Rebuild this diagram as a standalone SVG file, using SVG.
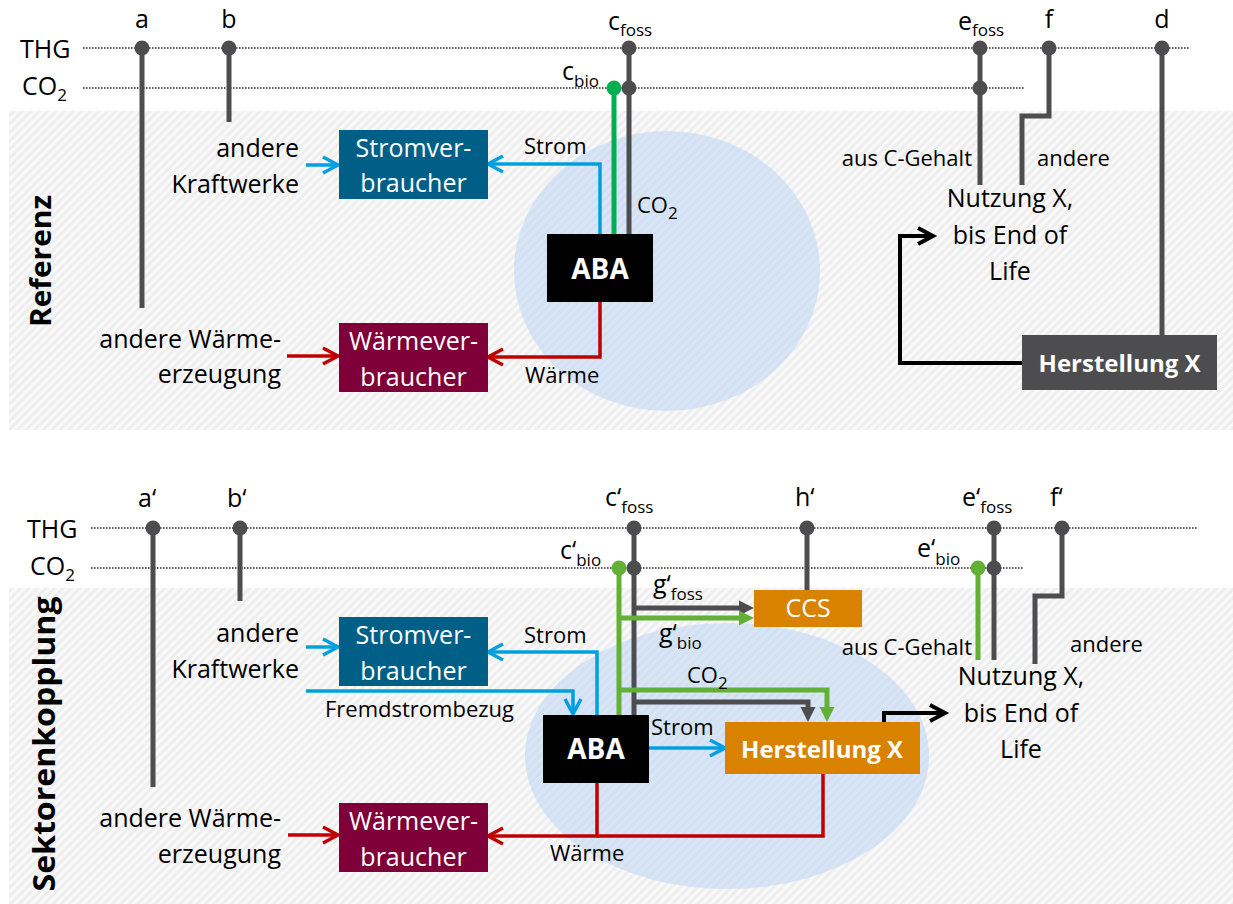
<svg xmlns="http://www.w3.org/2000/svg" width="1233" height="904" viewBox="0 0 1233 904">
<defs>
<pattern id="hatch" patternUnits="userSpaceOnUse" width="6" height="6" patternTransform="rotate(45)">
<rect width="6" height="6" fill="#EEEEEE"/>
<rect width="3" height="6" fill="#F9F9F9"/>
</pattern>
<marker id="chB" markerUnits="userSpaceOnUse" overflow="visible" orient="auto" markerWidth="20" markerHeight="20"><path d="M-15,-8 L0,0 L-15,8" fill="none" stroke="#00A0E0" stroke-width="3.5"/></marker>
<marker id="chR" markerUnits="userSpaceOnUse" overflow="visible" orient="auto" markerWidth="20" markerHeight="20"><path d="M-15,-8 L0,0 L-15,8" fill="none" stroke="#C00000" stroke-width="3.5"/></marker>
<marker id="chK" markerUnits="userSpaceOnUse" overflow="visible" orient="auto" markerWidth="20" markerHeight="20"><path d="M-15,-8 L0,0 L-15,8" fill="none" stroke="#000" stroke-width="4"/></marker>
<marker id="triG" markerUnits="userSpaceOnUse" overflow="visible" orient="auto" markerWidth="20" markerHeight="20"><path d="M0,-7.5 L15,0 L0,7.5Z" fill="#4D4D4F"/></marker>
<marker id="triL" markerUnits="userSpaceOnUse" overflow="visible" orient="auto" markerWidth="20" markerHeight="20"><path d="M0,-7.5 L15,0 L0,7.5Z" fill="#62B035"/></marker>
</defs>
<style>
text{font-family:"Open Sans","Liberation Sans",sans-serif;font-size:25px;fill:#000}
.sm{font-size:22px}
.sub{font-size:17px}
.w{fill:#fff;text-anchor:middle}
.b{font-weight:700}
.mid{text-anchor:middle}
.end{text-anchor:end}
.dl{stroke:#222;stroke-width:1.4;stroke-dasharray:1.5 1.5;fill:none}
.g{stroke:#4D4D4F;stroke-width:5;fill:none}
.gn{stroke:#00B050;stroke-width:5;fill:none}
.lg{stroke:#62B035;stroke-width:5;fill:none}
.bl{stroke:#00A0E0;stroke-width:3.5;fill:none}
.rd{stroke:#C00000;stroke-width:3.5;fill:none}
.k{stroke:#000;stroke-width:4;fill:none}
.dot{fill:#4D4D4F}
.dotg{fill:#00B050}
.dotl{fill:#62B035}
.ell{fill:#BCD6F5;opacity:0.55}
</style>

<g id="background">
<rect x="9" y="111" width="1224" height="319" fill="url(#hatch)"/>
<rect x="9" y="588" width="1224" height="316" fill="url(#hatch)"/>
<ellipse class="ell" cx="667" cy="271" rx="153" ry="140"/>
<ellipse class="ell" cx="727" cy="756" rx="202" ry="133"/>
</g>

<g id="axes">
<line class="dl" x1="83" y1="48" x2="1190" y2="48"/>
<line class="dl" x1="83" y1="88" x2="1024" y2="88"/>
<line class="dl" x1="91" y1="528" x2="1198" y2="528"/>
<line class="dl" x1="91" y1="568" x2="1024" y2="568"/>
<text x="20" y="58">THG</text>
<text x="22" y="95">CO<tspan class="sub" dy="6">2</tspan></text>
<text x="27" y="538">THG</text>
<text x="30" y="575">CO<tspan class="sub" dy="6">2</tspan></text>
<text class="b mid" font-size="29" transform="translate(51,261) rotate(-90)" style="font-size:29px" textLength="132" lengthAdjust="spacingAndGlyphs">Referenz</text>
<text class="b mid" transform="translate(55,744) rotate(-90)" style="font-size:30px" textLength="295" lengthAdjust="spacingAndGlyphs">Sektorenkopplung</text>
</g>

<g id="connectors">
<!-- top -->
<path class="g" d="M142,48 V308"/>
<path class="g" d="M229,48 V122"/>
<path class="g" d="M629,48 V234"/>
<path class="gn" d="M614,88 V234"/>
<path class="g" d="M980,48 V185"/>
<path class="g" d="M1049,48 V116 H1022 V185"/>
<path class="g" d="M1162,48 V335"/>
<path class="bl" d="M600,234 V164 H488" marker-end="url(#chB)"/>
<path class="bl" d="M306,165 H338" marker-end="url(#chB)"/>
<path class="rd" d="M600,301 V357 H488" marker-end="url(#chR)"/>
<path class="rd" d="M287,356 H338" marker-end="url(#chR)"/>
<path class="k" d="M1022,363 H900 V236 H933" marker-end="url(#chK)"/>
<!-- bottom -->
<path class="g" d="M153,528 V787"/>
<path class="g" d="M240,528 V601"/>
<path class="g" d="M634,528 V715"/>
<path class="lg" d="M619,568 V715"/>
<path class="g" d="M807,528 V590"/>
<path class="g" d="M634,608 H739" marker-end="url(#triG)"/>
<path class="lg" d="M619,618 H739" marker-end="url(#triL)"/>
<path class="lg" d="M619,690 H827 V707" marker-end="url(#triL)"/>
<path class="g" d="M634,702 H808 V707" marker-end="url(#triG)"/>
<path class="bl" d="M597,715 V652 H488" marker-end="url(#chB)"/>
<path class="bl" d="M306,647 H338" marker-end="url(#chB)"/>
<path class="bl" d="M306,691 H573 V714" marker-end="url(#chB)"/>
<path class="bl" d="M649,748 H725" marker-end="url(#chB)"/>
<path class="rd" d="M823,774 V836 H597"/>
<path class="rd" d="M597,783 V836 H488" marker-end="url(#chR)"/>
<path class="rd" d="M288,835 H338" marker-end="url(#chR)"/>
<path class="k" d="M884,722 V713 H945" marker-end="url(#chK)"/>
<path class="g" d="M994,528 V660"/>
<path class="lg" d="M978,568 V660"/>
<path class="g" d="M1062,528 V596 H1035 V664"/>
</g>

<g id="points">
<circle class="dot" cx="142" cy="48" r="7.5"/>
<circle class="dot" cx="229" cy="48" r="7.5"/>
<circle class="dot" cx="629" cy="48" r="7.5"/>
<circle class="dot" cx="629" cy="88" r="7.5"/>
<circle class="dotg" cx="614" cy="88" r="7.5"/>
<circle class="dot" cx="980" cy="48" r="7.5"/>
<circle class="dot" cx="980" cy="88" r="7.5"/>
<circle class="dot" cx="1049" cy="48" r="7.5"/>
<circle class="dot" cx="1162" cy="48" r="7.5"/>
<circle class="dot" cx="153" cy="528" r="7.5"/>
<circle class="dot" cx="240" cy="528" r="7.5"/>
<circle class="dot" cx="634" cy="528" r="7.5"/>
<circle class="dot" cx="634" cy="568" r="7.5"/>
<circle class="dotl" cx="619" cy="568" r="7.5"/>
<circle class="dot" cx="807" cy="528" r="7.5"/>
<circle class="dot" cx="994" cy="528" r="7.5"/>
<circle class="dot" cx="994" cy="568" r="7.5"/>
<circle class="dotl" cx="978" cy="568" r="7.5"/>
<circle class="dot" cx="1062" cy="528" r="7.5"/>
</g>

<g id="labels">
<text class="mid" x="142" y="28">a</text>
<text class="mid" x="229" y="28">b</text>
<text x="608" y="30">c<tspan class="sub" dy="6">foss</tspan></text>
<text x="562" y="80">c<tspan class="sub" dy="7">bio</tspan></text>
<text x="958" y="30">e<tspan class="sub" dy="6">foss</tspan></text>
<text class="mid" x="1049" y="28">f</text>
<text class="mid" x="1162" y="28">d</text>
<text class="sm" x="637" y="213">CO<tspan class="sub" dy="6">2</tspan></text>
<text class="sm" x="524" y="154">Strom</text>
<text class="sm" x="525" y="383">Wärme</text>
<text class="end" x="299" y="157">andere</text>
<text class="end" x="299" y="193">Kraftwerke</text>
<text class="end" x="281" y="348">andere Wärme-</text>
<text class="end" x="281" y="383">erzeugung</text>
<text class="sm end" x="972" y="166">aus C-Gehalt</text>
<text class="sm" x="1037" y="166">andere</text>
<text class="mid" x="1010" y="207">Nutzung X,</text>
<text class="mid" x="1010" y="244">bis End of</text>
<text class="mid" x="1010" y="280">Life</text>

<text x="138" y="507">a‘</text>
<text x="227" y="507">b‘</text>
<text x="605" y="506">c‘<tspan class="sub" dy="7">foss</tspan></text>
<text x="560" y="559">c‘<tspan class="sub" dy="7">bio</tspan></text>
<text x="795" y="506">h‘</text>
<text x="962" y="506">e‘<tspan class="sub" dy="7">foss</tspan></text>
<text x="1050" y="506">f‘</text>
<text x="917" y="557">e‘<tspan class="sub" dy="8">bio</tspan></text>
<text x="653" y="593">g‘<tspan class="sub" dy="7">foss</tspan></text>
<text x="659" y="642">g‘<tspan class="sub" dy="7">bio</tspan></text>
<text class="sm" x="687" y="683">CO<tspan class="sub" dy="6">2</tspan></text>
<text class="sm" x="524" y="643">Strom</text>
<text class="sm" x="651" y="735">Strom</text>
<text class="sm" x="550" y="861">Wärme</text>
<text class="sm" x="325" y="717">Fremdstrombezug</text>
<text class="end" x="299" y="642">andere</text>
<text class="end" x="299" y="678">Kraftwerke</text>
<text class="end" x="281" y="827">andere Wärme-</text>
<text class="end" x="281" y="863">erzeugung</text>
<text class="sm end" x="972" y="655">aus C-Gehalt</text>
<text class="sm" x="1070" y="652">andere</text>
<text class="mid" x="1021" y="685">Nutzung X,</text>
<text class="mid" x="1021" y="722">bis End of</text>
<text class="mid" x="1021" y="758">Life</text>
</g>

<g id="node-strom-ref">
<rect x="339" y="130" width="149" height="69" fill="#005F87"/>
<text class="w" x="413.5" y="157">Stromver-</text>
<text class="w" x="413.5" y="192">braucher</text>
</g>
<g id="node-waerme-ref">
<rect x="339" y="323" width="149" height="69" fill="#7F0038"/>
<text class="w" x="413.5" y="350">Wärmever-</text>
<text class="w" x="413.5" y="386">braucher</text>
</g>
<g id="node-aba-ref">
<rect x="547" y="234" width="106" height="68" fill="#000"/>
<text class="w b" x="600" y="279" style="font-size:28px">ABA</text>
</g>
<g id="node-herst-ref">
<rect x="1022" y="335" width="195" height="55" fill="#4D4D4F"/>
<text class="w b" x="1119.5" y="372" style="font-size:24px">Herstellung X</text>
</g>

<g id="node-strom-sk">
<rect x="339" y="617" width="149" height="69" fill="#005F87"/>
<text class="w" x="413.5" y="644">Stromver-</text>
<text class="w" x="413.5" y="680">braucher</text>
</g>
<g id="node-waerme-sk">
<rect x="339" y="803" width="149" height="69" fill="#7F0038"/>
<text class="w" x="413.5" y="830">Wärmever-</text>
<text class="w" x="413.5" y="866">braucher</text>
</g>
<g id="node-aba-sk">
<rect x="543" y="715" width="106" height="68" fill="#000"/>
<text class="w b" x="596" y="759" style="font-size:28px">ABA</text>
</g>
<g id="node-ccs">
<rect x="754" y="590" width="108" height="37" fill="#D98200"/>
<text class="w" x="808" y="617">CCS</text>
</g>
<g id="node-herst-sk">
<rect x="725" y="722" width="195" height="52" fill="#D98200"/>
<text class="w b" x="822" y="758" style="font-size:24px">Herstellung X</text>
</g>
</svg>
